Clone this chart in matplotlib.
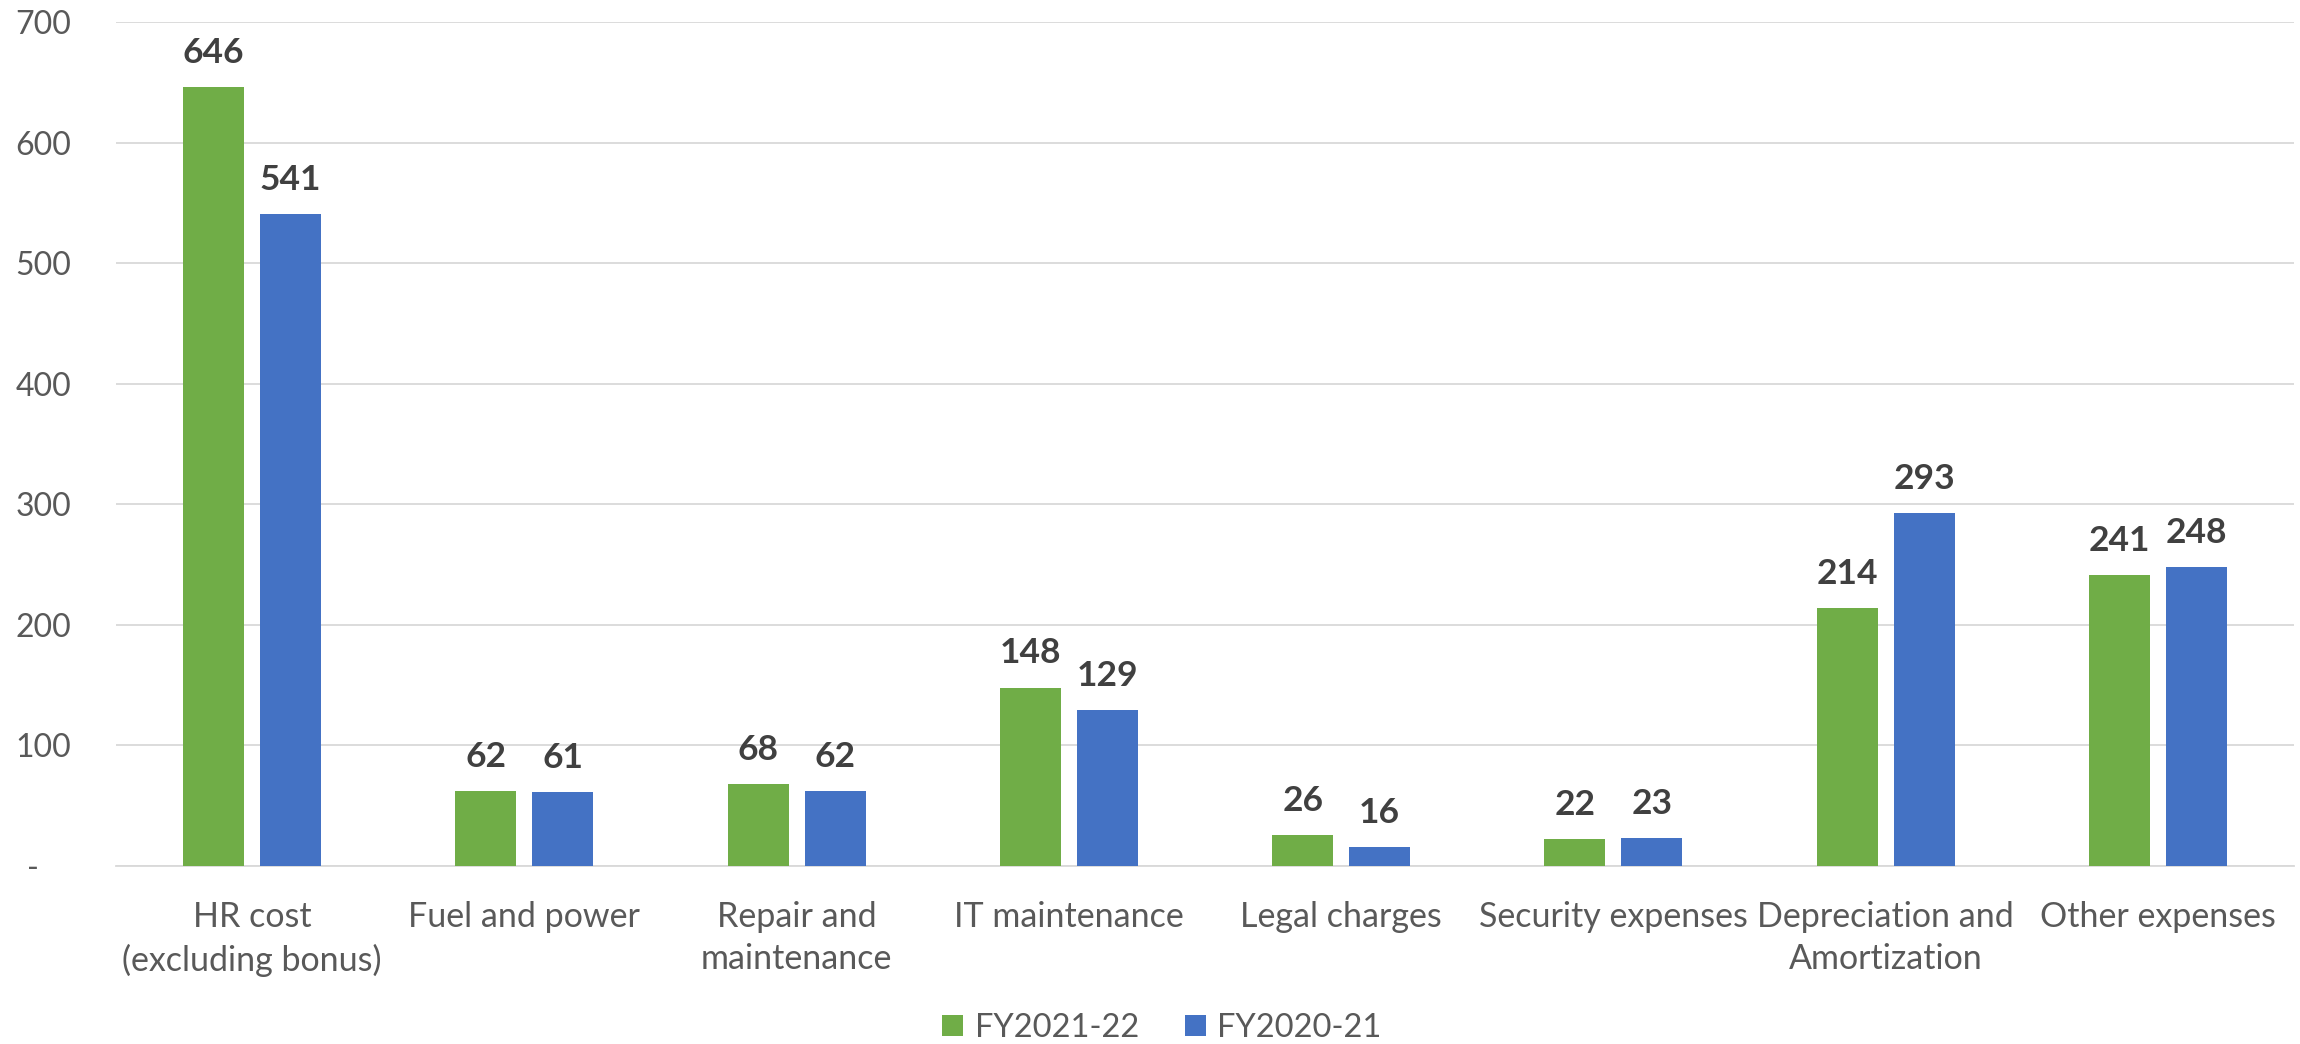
import matplotlib
matplotlib.use("Agg")
import matplotlib.pyplot as plt
import numpy as np
from matplotlib.ticker import FuncFormatter

categories = ["HR cost\n(excluding bonus)", "Fuel and power", "Repair and\nmaintenance",
              "IT maintenance", "Legal charges", "Security expenses",
              "Depreciation and\nAmortization", "Other expenses"]
fy2122 = [646, 62, 68, 148, 26, 22, 214, 241]
fy2021 = [541, 61, 62, 129, 16, 23, 293, 248]
series_names = ["FY2021-22", "FY2020-21"]
colors = ["#70AD47", "#4472C4"]
yticks = [0, 100, 200, 300, 400, 500, 600, 700]

plt.rcParams['font.family'] = ['Lato', 'DejaVu Sans']

W, H = 2300, 1044
fig = plt.figure(figsize=(W / 100, H / 100), dpi=100)
left, right, bottom, top = 116, 2294, 866, 22
ax = fig.add_axes([left / W, 1 - bottom / H, (right - left) / W, (bottom - top) / H])

x = np.arange(len(categories))
bw = 0.224
off = 0.141
bars1 = ax.bar(x - off, fy2122, bw, color=colors[0], label=series_names[0], zorder=3)
bars2 = ax.bar(x + off, fy2021, bw, color=colors[1], label=series_names[1], zorder=3)

for bars, vals in ((bars1, fy2122), (bars2, fy2021)):
    for b, v in zip(bars, vals):
        ax.annotate(str(v), (b.get_x() + b.get_width() / 2, v), xytext=(0, 13),
                    textcoords="offset points", ha="center", va="bottom",
                    fontsize=25.5, fontweight="bold", color="#404040")

ax.set_xlim(-0.5, len(categories) - 0.5)
ax.set_ylim(0, 700)
ax.set_yticks(yticks)
ax.yaxis.set_major_formatter(FuncFormatter(lambda v, p: "-    " if v == 0 else f"{int(v)}"))
ax.set_xticks(x)
ax.set_xticklabels(categories, linespacing=1.4)
ax.tick_params(axis="y", length=0, pad=32, labelsize=23, labelcolor="#595959")
ax.tick_params(axis="x", length=0, pad=25, labelsize=24.5, labelcolor="#595959")
ax.grid(axis="y", color="#D9D9D9", linewidth=1.3, zorder=0)
for s in ("top", "right", "left"):
    ax.spines[s].set_visible(False)
ax.spines["bottom"].set_color("#D9D9D9")
ax.spines["bottom"].set_linewidth(1.3)

leg = fig.legend(handles=[bars1, bars2], labels=series_names, loc="center",
                 bbox_to_anchor=(1162 / W, 1 - 1028 / H), ncol=2, frameon=False,
                 fontsize=23.5, handlelength=0.65, handleheight=0.65, handletextpad=0.35,
                 columnspacing=1.4, labelcolor="#595959")

fig.savefig("out.png", dpi=100)
